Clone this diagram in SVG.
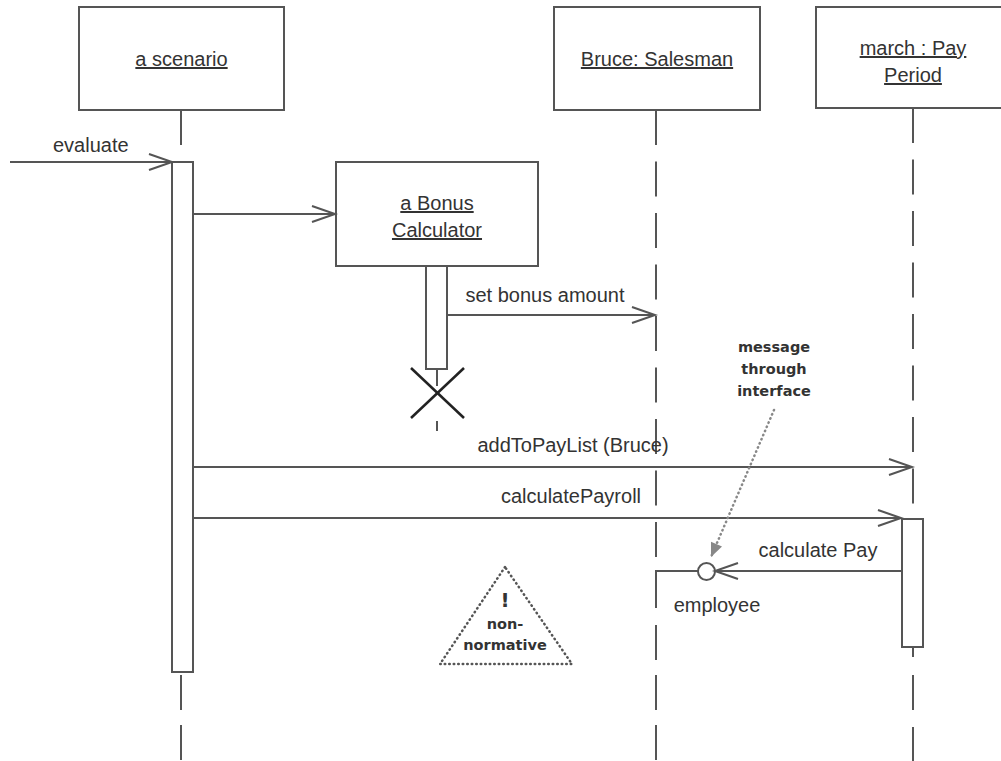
<svg xmlns="http://www.w3.org/2000/svg" width="1001" height="761" viewBox="0 0 1001 761">
<style>
.box{fill:#fff;stroke:#555;stroke-width:2}
.act{fill:#fff;stroke:#555;stroke-width:2}
.ln{fill:none;stroke:#555;stroke-width:2}
.dash{fill:none;stroke:#555;stroke-width:2;stroke-dasharray:35 16.5}
.msg{fill:none;stroke:#555;stroke-width:2;marker-end:url(#open)}
.t{font-family:"Liberation Sans",Arial,sans-serif;font-size:20px;fill:#333}
.u{text-decoration:underline}
.note{font-family:"DejaVu Sans",sans-serif;font-weight:bold;font-size:14.5px;fill:#333}
</style>
<defs>
<marker id="open" markerUnits="userSpaceOnUse" markerWidth="26" markerHeight="20" refX="23" refY="8" orient="auto" overflow="visible">
<path d="M0,0 L23,8 L0,16" fill="none" stroke="#555" stroke-width="2"/>
</marker>
<marker id="filled" markerUnits="userSpaceOnUse" markerWidth="16" markerHeight="14" refX="14" refY="6" orient="auto" overflow="visible">
<path d="M0,0 L14,6 L0,12 Z" fill="#888"/>
</marker>
</defs>

<g id="scenario">
<rect class="box" x="79" y="7" width="205" height="103"/>
<text class="t u" x="181.5" y="66" text-anchor="middle">a scenario</text>
<line class="ln" x1="181" y1="110" x2="181" y2="145"/>
<rect class="act" x="172" y="162" width="21" height="510"/>
<path class="dash" d="M181,675 V761" style="stroke-dasharray:35 15"/>
</g>

<g id="bonus-calculator">
<rect class="box" x="336" y="162" width="202" height="104"/>
<text class="t u" x="437" y="210" text-anchor="middle">a Bonus</text>
<text class="t u" x="437" y="237" text-anchor="middle">Calculator</text>
<rect class="act" x="426" y="266" width="21" height="103"/>
<line class="ln" x1="437" y1="369" x2="437" y2="386"/>
<line x1="411" y1="368" x2="464" y2="418" stroke="#222" stroke-width="2.5"/>
<line x1="464" y1="368" x2="411" y2="418" stroke="#222" stroke-width="2.5"/>
<line class="ln" x1="437" y1="421" x2="437" y2="431"/>
</g>

<g id="bruce-salesman">
<rect class="box" x="554" y="7" width="206" height="103"/>
<text class="t u" x="657" y="66" text-anchor="middle">Bruce: Salesman</text>
<path class="dash" d="M656,110 V562"/>
<path class="ln" d="M698,571 H656 V608"/>
<path class="dash" d="M656,625 V761" style="stroke-dasharray:35 15"/>
<circle cx="706.5" cy="571.5" r="8.5" fill="#fff" stroke="#555" stroke-width="2"/>
<text class="t" x="717" y="612" text-anchor="middle">employee</text>
</g>

<g id="march-pay-period">
<rect class="box" x="816" y="7" width="200" height="101"/>
<text class="t u" x="913" y="55" text-anchor="middle">march : Pay</text>
<text class="t u" x="913" y="82" text-anchor="middle">Period</text>
<path class="dash" d="M913,108 V511"/>
<rect class="act" x="902" y="519" width="21" height="128"/>
<line class="ln" x1="913" y1="647" x2="913" y2="657"/>
<path class="dash" d="M913,675 V761" style="stroke-dasharray:35 17"/>
</g>

<g id="note-interface">
<text class="note" x="774" y="352" text-anchor="middle">message</text>
<text class="note" x="774" y="374" text-anchor="middle">through</text>
<text class="note" x="774" y="396" text-anchor="middle">interface</text>
</g>

<g id="non-normative">
<polygon points="505,567 440,664 572,664" fill="none" stroke="#555" stroke-width="2.5" stroke-linecap="round" stroke-dasharray="0.5 4"/>
<text class="note" x="505" y="607" text-anchor="middle" style="font-size:20px">!</text>
<text class="note" x="505" y="629" text-anchor="middle">non-</text>
<text class="note" x="505" y="650" text-anchor="middle">normative</text>
</g>

<g id="connectors">
<line class="msg" x1="10" y1="162" x2="172" y2="162"/>
<text class="t" x="53" y="152">evaluate</text>
<line class="msg" x1="193" y1="214" x2="335" y2="214"/>
<line class="msg" x1="447" y1="315" x2="655" y2="315"/>
<text class="t" x="545" y="302" text-anchor="middle">set bonus amount</text>
<line class="msg" x1="193" y1="467" x2="912" y2="467"/>
<text class="t" x="573" y="452" text-anchor="middle">addToPayList (Bruce)</text>
<line class="msg" x1="193" y1="518" x2="901" y2="518"/>
<text class="t" x="571" y="503" text-anchor="middle">calculatePayroll</text>
<line class="msg" x1="902" y1="571" x2="715" y2="571"/>
<text class="t" x="818" y="557" text-anchor="middle">calculate Pay</text>
<line x1="774" y1="410" x2="711" y2="557" stroke="#888" stroke-width="2.5" stroke-linecap="round" stroke-dasharray="0.5 4" marker-end="url(#filled)"/>
</g>
</svg>
